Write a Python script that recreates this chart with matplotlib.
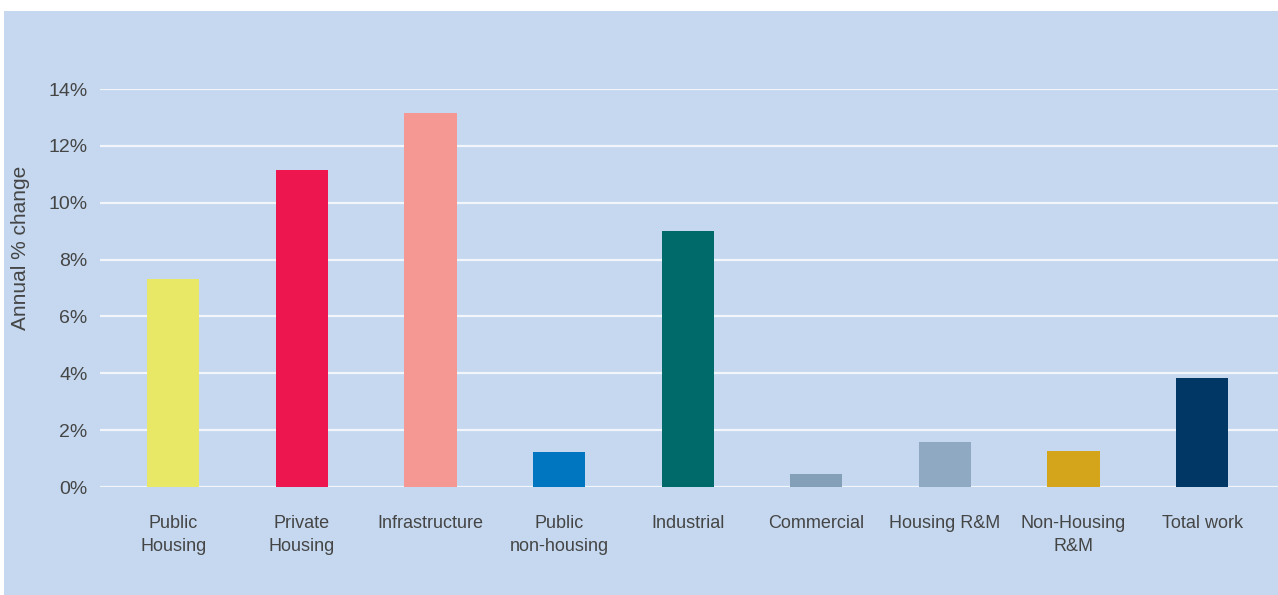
import matplotlib.pyplot as plt
from matplotlib.patches import Rectangle

categories = ['Public\nHousing', 'Private\nHousing', 'Infrastructure', 'Public\nnon-housing',
              'Industrial', 'Commercial', 'Housing R&M', 'Non-Housing\nR&M', 'Total work']
values = [7.3, 11.15, 13.15, 1.23, 9.0, 0.46, 1.58, 1.26, 3.85]
colors = ['#e8e866', '#ee164e', '#f59894', '#0076c0', '#006a6a',
          '#83a0b8', '#8fa9c3', '#d4a51b', '#003764']
yticks = [0, 2, 4, 6, 8, 10, 12, 14]

plt.rcParams['font.family'] = ['Liberation Sans', 'DejaVu Sans']
text_col = '#454545'
panel = '#c5d8ef'

fig = plt.figure(figsize=(12.78, 5.95), dpi=100)
fig.patches.append(Rectangle((4 / 1278, 0), 1, (595 - 11) / 595,
                             transform=fig.transFigure, facecolor=panel,
                             edgecolor='none', zorder=-10))

ax = fig.add_axes([100 / 1278, (595 - 487) / 595, 1178 / 1278, 398 / 595])
ax.set_zorder(2)
ax.set_facecolor('none')
x = range(len(categories))
ax.bar(x, values, width=0.405, color=colors, zorder=3)

ax.set_xlim(-0.57, 8.59)
ax.set_ylim(0, 14)
ax.set_yticks(yticks)
ax.set_yticklabels([f'{v}%' for v in yticks])
ax.set_xticks(list(x))
ax.set_xticklabels(categories, linespacing=1.45)
ax.grid(axis='y', color='#f2f6fb', linewidth=1.6, zorder=1)
ax.set_axisbelow(True)
for s in ax.spines.values():
    s.set_visible(False)
ax.tick_params(axis='y', length=0, pad=9, labelsize=14, labelcolor=text_col)
ax.tick_params(axis='x', length=0, pad=20, labelsize=13, labelcolor=text_col)
for lbl in ax.get_xticklabels():
    lbl.set_verticalalignment('top')

ax.set_ylabel('Annual % change', fontsize=15, color=text_col)
ax.yaxis.set_label_coords(-0.059, 0.6)

fig.savefig('out.png', dpi=100)
